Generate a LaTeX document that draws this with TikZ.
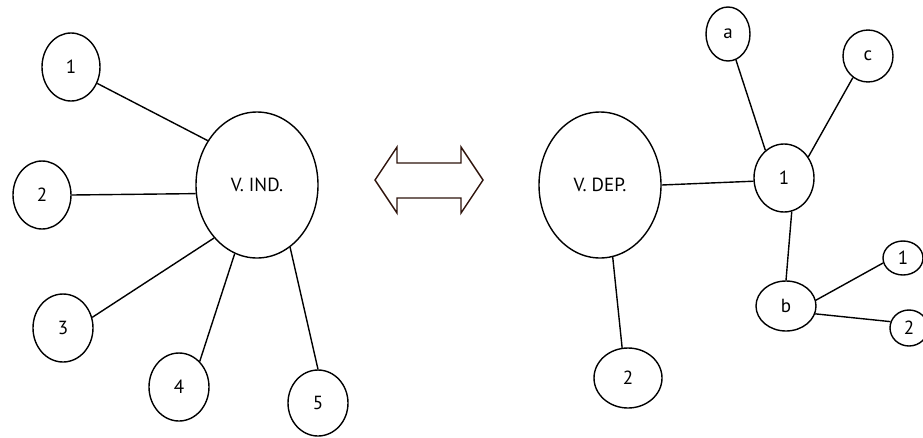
\documentclass[tikz,border=0pt]{standalone}
\usepackage{fontspec}
\setmainfont{PT Sans}
\usepackage{tikz}
\usetikzlibrary{shapes.geometric}

\definecolor{arrowline}{RGB}{45,18,10}

\begin{document}
\begin{tikzpicture}[
        x=1pt, y=-1pt,
        line width=1.4pt,
        every node/.style={ellipse,draw,inner sep=0pt,font=\fontsize{19}{21}\selectfont},
        sz/.style 2 args={minimum width=#1pt,minimum height=#2pt},
      ]
      \useasboundingbox (0,0) rectangle (923,437);

      % V. IND. and its five
      \node[sz={122}{146}] (vind) at (257,185) {V. IND.};
      \node[sz={58}{68}] (ind1) at (71,67) {1};
      \node[sz={58}{68}] (ind2) at (42,195) {2};
      \node[sz={60}{68}] (ind3) at (63,328) {3};
      \node[sz={60}{68}] (ind4) at (179,387) {4};
      \node[sz={60}{66}] (ind5) at (318,403) {5};
      \draw (ind1.-32) -- (vind.138);
      \draw (ind2.east) -- (vind.188);
      \draw (ind3.20) -- (vind.231);
      \draw (ind4.51) -- (vind.252);
      \draw (ind5.90) -- (vind.298);

      % double arrow
      \draw[arrowline, line width=1.4pt, line join=miter]
        (375,180) -- (397,147) -- (397,163) -- (461,163) -- (461,147)
        -- (483,180) -- (461,213) -- (461,198) -- (397,198) -- (397,213) -- cycle;

      % V. DEP. tree
      \node[sz={122}{146}] (vdep) at (600,185) {V. DEP.};
      \node[sz={68}{60}] (dep2) at (628,378) {2};
      \node[sz={60}{68}] (dep1) at (784,178) {1};
      \node[sz={44}{54}] (depa) at (728,34) {a};
      \node[sz={50}{52}] (depc) at (868,56) {c};
      \node[sz={60}{50}] (depb) at (786,306) {b};
      \node[sz={40}{34}] (bone) at (903,258) {1};
      \node[sz={38}{36}] (btwo) at (909,328) {2};
      \draw (vdep.east) -- (dep1.186);
      \draw (vdep.-80) -- (dep2.101);
      \draw (depa.-73) -- (dep1.124);
      \draw (depc.235) -- (dep1.41);
      \draw (dep1.-77) -- (depb.north);
      \draw (depb.11) -- (bone.194);
      \draw (depb.-15) -- (btwo.161);
    \end{tikzpicture}
\end{document}
